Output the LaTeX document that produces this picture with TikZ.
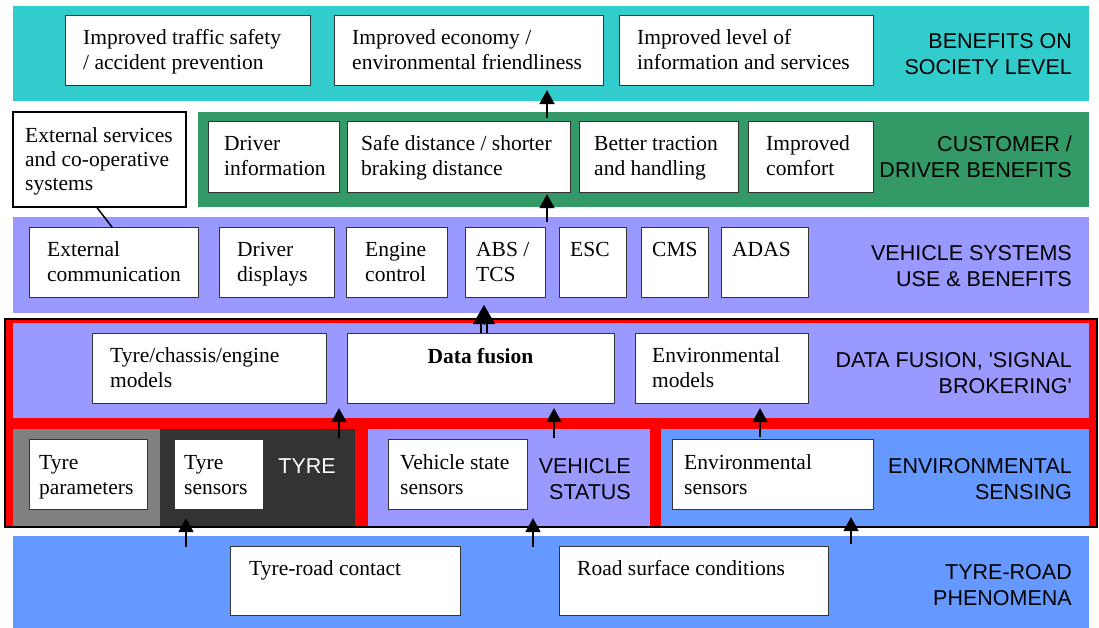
\documentclass[tikz,border=0pt]{standalone}
\usepackage{fontspec}
\setmainfont{Liberation Serif}
\setsansfont{Liberation Sans}
\usetikzlibrary{calc,arrows.meta}
\definecolor{cteal}{HTML}{33CCCC}
\definecolor{cgreen}{HTML}{339966}
\definecolor{cpurp}{HTML}{9999FF}
\definecolor{cblue}{HTML}{6699FF}
\definecolor{cred}{HTML}{FF0000}
\definecolor{cgrey}{HTML}{808080}
\definecolor{cdark}{HTML}{333333}
\definecolor{cedge}{HTML}{333333}
\newcommand{\mytl}[1]{\begin{tabular}[t]{@{}l@{}}#1\end{tabular}}
\newcommand{\mytr}[1]{\begin{tabular}[t]{@{}r@{}}#1\end{tabular}}
% \mkbox{style}{name}{x1}{y1}{x2}{y2}
\newcommand{\mkbox}[6]{%
  \pgfmathsetmacro{\mybw}{#5-#3}\pgfmathsetmacro{\mybh}{#6-#4}%
  \node[#1, anchor=north west, minimum width=\mybw pt, minimum height=\mybh pt,
        inner sep=0pt, outer sep=0pt] (#2) at (#3,#4) {};}
\tikzset{
  band/.style={draw=none},
  wbox/.style={draw=cedge, line width=1pt, fill=white},
  btxt/.style={anchor=base west, inner sep=0pt, font=\fontsize{21.5}{25}\selectfont},
  ltxt/.style={anchor=base east, inner sep=0pt, font=\sffamily\fontsize{21.5}{25.5}\selectfont},
  arr/.style={line width=2.8pt, -{Triangle[length=14pt,width=14.5pt]}},
}
\begin{document}
\begin{tikzpicture}[x=1pt,y=-1pt]
\useasboundingbox (0,0) rectangle (1099,627);
\fill[white] (0,0) rectangle (1099,627);

% ---------- society level ----------
\mkbox{band, fill=cteal}{soc}{13}{6}{1089}{101}
\mkbox{wbox}{safety}{65}{15}{310}{85}
\node[btxt] (safetyt) at (83,44) {\mytl{Improved traffic safety\\/ accident prevention}};
\mkbox{wbox}{econ}{334}{15}{603}{85}
\node[btxt] (econt) at (352,44) {\mytl{Improved economy /\\environmental friendliness}};
\mkbox{wbox}{info}{619}{15}{873}{85}
\node[btxt] (infot) at (637,44) {\mytl{Improved level of\\information and services}};
\node[ltxt] (socl) at (1072,48.5) {\mytr{BENEFITS ON\\SOCIETY LEVEL}};

% ---------- customer / driver ----------
\mkbox{band, fill=cgreen}{cust}{198}{112}{1089}{207}
\mkbox{wbox, draw=black, line width=2pt}{ext}{13}{112}{186}{207}
\node[btxt, font=\fontsize{21.5}{24}\selectfont] (extt) at (25,142) {\mytl{External services\\and co-operative\\systems}};
\mkbox{wbox}{drvinfo}{208}{121}{339}{192}
\node[btxt] (drvinfot) at (224,150) {\mytl{Driver\\information}};
\mkbox{wbox}{safe}{347}{121}{570}{192}
\node[btxt] (safet) at (361,150) {\mytl{Safe distance / shorter\\braking distance}};
\mkbox{wbox}{trac}{579}{121}{738}{192}
\node[btxt] (tract) at (594,150) {\mytl{Better traction\\and handling}};
\mkbox{wbox}{comf}{748}{121}{873}{192}
\node[btxt] (comft) at (766,150) {\mytl{Improved\\comfort}};
\node[ltxt] (custl) at (1072,151.5) {\mytr{CUSTOMER /\\DRIVER BENEFITS}};

% ---------- vehicle systems ----------
\mkbox{band, fill=cpurp}{vsys}{13}{217}{1089}{313}
\mkbox{wbox}{extcomm}{29}{227}{198}{297}
\node[btxt] (extcommt) at (47,256) {\mytl{External\\communication}};
\mkbox{wbox}{drvdisp}{219}{227}{334}{297}
\node[btxt] (drvdispt) at (237,256) {\mytl{Driver\\displays}};
\mkbox{wbox}{engine}{346}{227}{447}{297}
\node[btxt] (enginet) at (365,256) {\mytl{Engine\\control}};
\mkbox{wbox}{abs}{465}{227}{545}{297}
\node[btxt] (abst) at (476,256) {\mytl{ABS /\\TCS}};
\mkbox{wbox}{esc}{559}{227}{626}{297}
\node[btxt] (esct) at (570,256) {ESC};
\mkbox{wbox}{cms}{641}{227}{708}{297}
\node[btxt] (cmst) at (652,256) {CMS};
\mkbox{wbox}{adas}{721}{227}{808}{297}
\node[btxt] (adast) at (732,256) {ADAS};
\node[ltxt] (vsysl) at (1072,260.5) {\mytr{VEHICLE SYSTEMS\\USE \& BENEFITS}};

% ---------- red frame ----------
\mkbox{draw=black, line width=2pt, fill=cred}{frame}{5}{319}{1097}{527}
\mkbox{band, fill=cpurp}{dfband}{13}{323}{1089}{418}
\mkbox{wbox}{tcm}{92}{333}{326}{403}
\node[btxt] (tcmt) at (110,362) {\mytl{Tyre/chassis/engine\\models}};
\mkbox{wbox}{dfus}{347}{333}{614}{403}
\node[btxt, anchor=base, font=\fontsize{21.5}{25}\selectfont\bfseries] (dfust) at (480.5,363) {Data fusion};
\mkbox{wbox}{envmod}{635}{333}{808}{403}
\node[btxt] (envmodt) at (652,362) {\mytl{Environmental\\models}};
\node[ltxt] (dfl) at (1072,367.5) {\mytr{DATA FUSION, \textquotesingle SIGNAL\\BROKERING\textquotesingle}};

\mkbox{band, fill=cgrey}{greyp}{13}{429}{160}{526}
\mkbox{band, fill=cdark}{tyrep}{160}{429}{355}{526}
\mkbox{band, fill=cpurp}{vstat}{368}{429}{650}{526}
\mkbox{band, fill=cblue}{envs}{661}{429}{1089}{526}
\mkbox{wbox}{tpar}{29}{439}{147}{509}
\node[btxt] (tpart) at (39,469) {\mytl{Tyre\\parameters}};
\mkbox{wbox}{tsens}{174}{439}{263}{509}
\node[btxt] (tsenst) at (184,469) {\mytl{Tyre\\sensors}};
\node[ltxt, text=white] (tyrel) at (336,473.5) {TYRE};
\mkbox{wbox}{vss}{388}{439}{527}{509}
\node[btxt] (vsst) at (400,469) {\mytl{Vehicle state\\sensors}};
\node[ltxt] (vstatl) at (631,473.5) {\mytr{VEHICLE\\STATUS}};
\mkbox{wbox}{envsens}{672}{439}{873}{509}
\node[btxt] (envsenst) at (684,469) {\mytl{Environmental\\sensors}};
\node[ltxt] (envsl) at (1072,473.5) {\mytr{ENVIRONMENTAL\\SENSING}};

% ---------- tyre-road ----------
\mkbox{band, fill=cblue}{trband}{13}{536}{1089}{628}
\mkbox{wbox}{trc}{230}{546}{460}{615}
\node[btxt] (trct) at (249,575) {Tyre-road contact};
\mkbox{wbox}{rsc}{559}{546}{828}{615}
\node[btxt] (rsct) at (577,575) {Road surface conditions};
\node[ltxt] (trl) at (1072,579.5) {\mytr{TYRE-ROAD\\PHENOMENA}};

% ---------- connectors ----------
\coordinate (xa) at (547,0);
\coordinate (xb) at (484,0);
\coordinate (xc) at (339,0);
\coordinate (xd) at (554,0);
\coordinate (xe) at (760,0);
\coordinate (xf) at (186,0);
\coordinate (xg) at (533,0);
\coordinate (xh) at (851,0);

\draw[line width=1.5pt] ([xshift=-3pt]ext.south) -- ([xshift=-1.5pt]extcomm.north);

\draw[arr] ([yshift=3pt]safe.north -| xa) -- ([yshift=-5pt]econ.south -| xa);
\draw[arr] ([yshift=-5pt]vsys.north -| xa) -- ([yshift=-2pt]safe.south -| xa);

\draw[line width=2pt] ([xshift=-2.8pt]dfus.north -| xb) -- ([xshift=-2.8pt,yshift=14pt]dfus.north -| xb);
\draw[line width=2pt] ([xshift=2.8pt]dfus.north -| xb) -- ([xshift=2.8pt,yshift=14pt]dfus.north -| xb);
\draw[line width=0.5pt, -{Triangle[length=19pt,width=22pt]}] ([yshift=9pt]dfus.north -| xb) -- ([yshift=-8pt]abs.south -| xb);

\draw[arr] ([yshift=-9pt]tyrep.north -| xc) -- ([yshift=-5pt]tcm.south -| xc);
\draw[arr] ([yshift=-9pt]vstat.north -| xd) -- ([yshift=-5pt]dfus.south -| xd);
\draw[arr] ([yshift=-8pt]envs.north -| xe) -- ([yshift=-5pt]envmod.south -| xe);

\draw[arr] ([yshift=-11pt]trband.north -| xf) -- ([yshift=-9pt]tsens.south -| xf);
\draw[arr] ([yshift=-11pt]trband.north -| xg) -- ([yshift=-9pt]vss.south -| xg);
\draw[arr] ([yshift=-8pt]trband.north -| xh) -- ([yshift=-8pt]envsens.south -| xh);
\end{tikzpicture}
\end{document}
